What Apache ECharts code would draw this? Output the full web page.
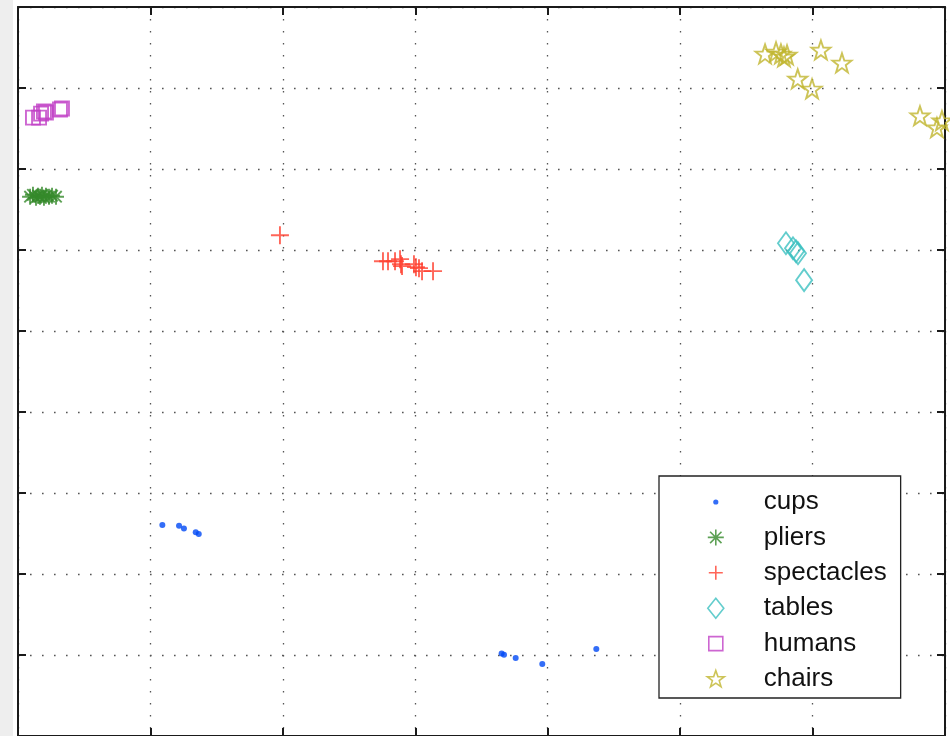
<!DOCTYPE html>
<html><head><meta charset="utf-8">
<script src="https://cdn.jsdelivr.net/npm/echarts@6/dist/echarts.min.js"></script>
<style>html,body{margin:0;padding:0;background:#fff}#c{width:950px;height:736px}</style>
</head><body><div id="c"></div>
<script>
// ---- data ----
const categories = ['cups', 'pliers', 'spectacles', 'tables', 'humans', 'chairs'];
const cups = [[1.090,2.604],[1.216,2.597],[1.253,2.563],[1.342,2.514],[1.365,2.493],
              [3.652,1.017],[3.670,1.004],[3.758,0.964],[3.959,0.890],[4.367,1.074]];
const pliers = [[0.091,6.658],[0.113,6.682],[0.136,6.646],[0.151,6.670],[0.166,6.658],[0.181,6.682],
                [0.196,6.646],[0.211,6.670],[0.234,6.658],[0.257,6.670],[0.287,6.658]];
const spectacles = [[1.978,6.182],[2.756,5.862],[2.794,5.862],[2.847,5.862],[2.885,5.887],[2.892,5.825],
                    [2.900,5.801],[2.990,5.825],[3.005,5.788],[3.028,5.776],[3.051,5.739],[3.134,5.739]];
const tables = [[5.799,6.083],[5.852,6.022],[5.875,5.985],[5.890,5.960],[5.936,5.628]];
const humans = [[0.113,7.634],[0.159,7.634],[0.174,7.684],[0.196,7.709],[0.211,7.697],[0.317,7.734],[0.332,7.746]];
const chairs = [[5.641,8.421],[5.724,8.446],[5.761,8.421],[5.807,8.409],[5.784,8.384],[6.063,8.470],
                [6.222,8.310],[5.888,8.113],[5.996,7.990],[6.811,7.658],[6.939,7.511],[6.977,7.597]];
const xRange = [0, 7];
const yRange = [0, 9];

// ---- styling ----
const colors = {cups:'#0048f5', pliers:'#358a2a', spectacles:'#ff4030', tables:'#3cc0c0', humans:'#c040c6', chairs:'#c0b52e'};
const STAR = 'M10,1.5L12.12,7.59L18.56,7.72L13.42,11.61L15.29,17.78L10,14.1L4.71,17.78L6.58,11.61L1.44,7.72L7.88,7.59Z';
const AST = 'M10,2L10,18M2,10L18,10M4.3,4.3L15.7,15.7M4.3,15.7L15.7,4.3';
const PLUS = 'M10,2L10,18M2,10L18,10';
const symbols = {
  cups: {symbol:'circle', size:6, legend:'path://M0,0M20,20M7.4,10A2.6,2.6,0,1,1,12.6,10A2.6,2.6,0,1,1,7.4,10Z', filled:true},
  pliers: {symbol:'path://'+AST, size:16, legend:'path://M0,0M20,20'+AST},
  spectacles: {symbol:'path://'+PLUS, size:18, legend:'path://M0,0M20,20M10,3L10,17M3,10L17,10'},
  tables: {symbol:'diamond', size:[16,22], legend:'path://M0,0M20,20M10,0L18,10L10,20L2,10Z'},
  humans: {symbol:'rect', size:14, legend:'path://M0,0M20,20M3,3L17,3L17,17L3,17Z'},
  chairs: {symbol:'path://'+STAR, size:19, legend:'path://M0,0M20,20'+STAR}
};
const seriesData = {cups, pliers, spectacles, tables, humans, chairs};

function styleFor(name, w){
  const s = symbols[name], c = colors[name];
  return s.filled ? {color:c, borderWidth:0} : {color:'rgba(255,255,255,0)', borderColor:c, borderWidth:w};
}

const axisCommon = {
  axisLine: {show:true, onZero:false, lineStyle:{color:'#1a1a1a', width:2}},
  axisTick: {show:true, inside:true, length:8, lineStyle:{color:'#1a1a1a', width:2}},
  axisLabel: {show:false},
  splitLine: {show:false}
};
const gridDots = {show:true, lineStyle:{type:[1.6,10.4], color:'#555', width:1.3}};

const chart = echarts.init(document.getElementById('c'), null, {renderer:'canvas'});
chart.setOption({
  animation:false,
  backgroundColor:'#fff',
  graphic:[{type:'rect', left:0, top:0, z:-10, shape:{width:13, height:736}, style:{fill:'#eeeeee'}}],
  grid:{left:18, right:5, top:7, bottom:-2.5, containLabel:false},
  xAxis:[
    Object.assign({type:'value', min:xRange[0], max:xRange[1], interval:1, position:'bottom'}, axisCommon, {splitLine:gridDots}),
    Object.assign({type:'value', min:xRange[0], max:xRange[1], interval:1, position:'top'}, axisCommon)
  ],
  yAxis:[
    Object.assign({type:'value', min:yRange[0], max:yRange[1], interval:1, position:'left'}, axisCommon, {splitLine:gridDots}),
    Object.assign({type:'value', min:yRange[0], max:yRange[1], interval:1, position:'right'}, axisCommon)
  ],
  legend:{
    orient:'vertical', left:659, top:476, selectedMode:false,
    backgroundColor:'#fff', borderColor:'#222', borderWidth:1.3, borderRadius:0,
    padding:[13,14,6,46], itemWidth:20, itemHeight:20, itemGap:9.4,
    textStyle:{fontFamily:'"Liberation Sans", Arial, sans-serif', fontSize:26, color:'#111', padding:[0,0,0,33]},
    data: categories.map(n => ({name:n, icon:symbols[n].legend, itemStyle:styleFor(n, 1.6)}))
  },
  series: categories.map(n => ({
    name:n, type:'scatter', data:seriesData[n], xAxisIndex:0, yAxisIndex:0,
    symbol:symbols[n].symbol, symbolSize:symbols[n].size, symbolKeepAspect:false,
    itemStyle:styleFor(n, 1.9), clip:false, emphasis:{disabled:true}
  }))
});
</script></body></html>
